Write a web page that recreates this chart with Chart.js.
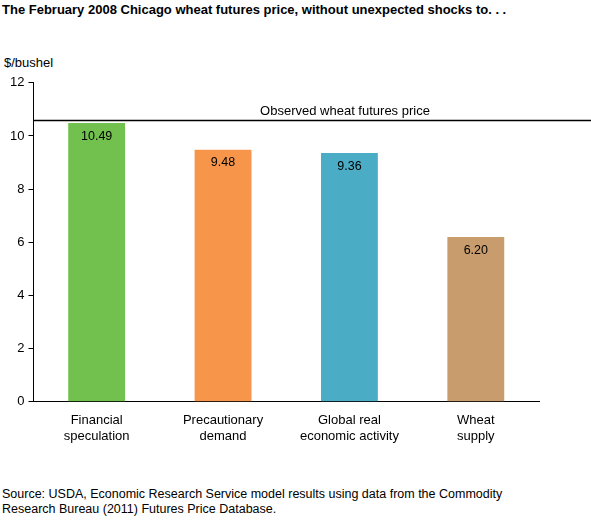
<!DOCTYPE html>
<html><head><meta charset="utf-8">
<script src="https://cdn.jsdelivr.net/npm/chart.js@4/dist/chart.umd.min.js"></script>
<style>
body{margin:0;width:591px;height:521px;background:#fff;font-family:"Liberation Sans",Arial,sans-serif;position:relative;overflow:hidden}
#title{position:absolute;left:2px;top:2px;font-weight:bold;font-size:13px;color:#000}
#unit{position:absolute;left:4px;top:55px;font-size:13px}
#src{position:absolute;left:2px;top:487px;font-size:12.5px;line-height:15px}
#wrap{position:absolute;left:0;top:71px;width:591px;height:376px}
</style></head><body>
<div id="title">The February 2008 Chicago wheat futures price, without unexpected shocks to. . .</div>
<div id="unit">$/bushel</div>
<div id="wrap"><canvas id="c"></canvas></div>
<div id="src">Source: USDA, Economic Research Service model results using data from the Commodity<br>Research Bureau (2011) Futures Price Database.</div>
<script>
const categories = [["Financial","speculation"],["Precautionary","demand"],["Global real","economic activity"],["Wheat","supply"]];
const values = [10.49, 9.48, 9.36, 6.20];
const colors = ["#72c14f","#f7964a","#4bacc6","#c89c6c"];
const observed = 10.58;
const yTicks = [0,2,4,6,8,10,12];

const overlay = {
  id: "overlay",
  afterDatasetsDraw(chart) {
    const {ctx, chartArea, scales} = chart;
    const y = scales.y.getPixelForValue(observed);
    ctx.save();
    ctx.strokeStyle = "#000"; ctx.lineWidth = 1.5;
    ctx.beginPath(); ctx.moveTo(chartArea.left, y); ctx.lineTo(chart.width, y); ctx.stroke();
    ctx.fillStyle = "#000"; ctx.font = "13px 'Liberation Sans', Arial";
    ctx.textAlign = "center"; ctx.textBaseline = "bottom";
    ctx.fillText("Observed wheat futures price", 345, y - 3);
    ctx.font = "12.5px 'Liberation Sans', Arial"; ctx.textBaseline = "top";
    chart.getDatasetMeta(0).data.forEach((bar, i) => {
      ctx.fillText(values[i].toFixed(2), bar.x, bar.y + 7);
    });
    ctx.restore();
  }
};

new Chart(document.getElementById("c"), {
  type: "bar",
  data: { labels: categories, datasets: [{ data: values, backgroundColor: colors, barPercentage: 0.45, categoryPercentage: 1 }] },
  options: {
    responsive: true, maintainAspectRatio: false, animation: false,
    layout: { padding: { left: 6, right: 52, top: 8 } },
    plugins: { legend: { display: false }, tooltip: { enabled: false } },
    scales: {
      x: { grid: { display: false }, border: { color: "#000" },
           ticks: { color: "#000", font: { size: 13, family: "'Liberation Sans', Arial" }, maxRotation: 0 } },
      y: { min: 0, max: 12, afterBuildTicks: (ax) => { ax.ticks = yTicks.map(v => ({ value: v })); },
           grid: { display: true, drawOnChartArea: false, drawTicks: true, tickLength: 5, color: "#000" },
           border: { color: "#000" },
           ticks: { color: "#000", padding: 4, font: { size: 13, family: "'Liberation Sans', Arial" } } }
    }
  },
  plugins: [overlay]
});
</script>
</body></html>
